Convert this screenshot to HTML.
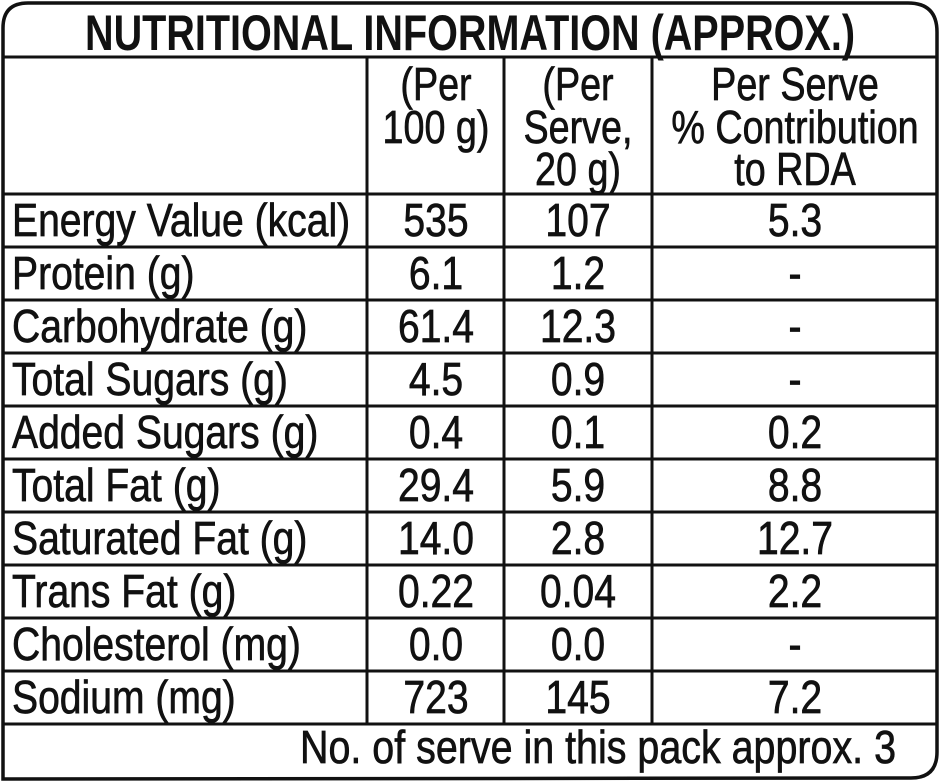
<!DOCTYPE html>
<html><head><meta charset="utf-8"><style>
html,body{margin:0;padding:0;background:#fff;}
svg{display:block;}
text{font-family:"Liberation Sans",Arial,sans-serif;fill:#111;}
.b text{stroke:#111;stroke-width:0.7;}
</style></head><body>
<svg width="940" height="781" viewBox="0 0 940 781" xmlns="http://www.w3.org/2000/svg">
<rect width="940" height="781" fill="#fff"/>
<path d="M3,779 L3,28 Q3,3 28,3 L908,3 Q937,3 937,32 L937,752 Q937,778 911,778 Z" fill="none" stroke="#111" stroke-width="3.5"/>
<g stroke="#111" stroke-width="3">
<line x1="3" y1="57" x2="937" y2="57"/>
<line x1="3" y1="194" x2="937" y2="194"/>
<line x1="3" y1="247" x2="937" y2="247"/>
<line x1="3" y1="300" x2="937" y2="300"/>
<line x1="3" y1="353" x2="937" y2="353"/>
<line x1="3" y1="406" x2="937" y2="406"/>
<line x1="3" y1="459" x2="937" y2="459"/>
<line x1="3" y1="512" x2="937" y2="512"/>
<line x1="3" y1="565" x2="937" y2="565"/>
<line x1="3" y1="618" x2="937" y2="618"/>
<line x1="3" y1="671" x2="937" y2="671"/>
<line x1="3" y1="724" x2="937" y2="724"/>
<line x1="367" y1="57" x2="367" y2="724"/>
<line x1="504" y1="57" x2="504" y2="724"/>
<line x1="652" y1="57" x2="652" y2="724"/>
</g>
<text x="470" y="50" text-anchor="middle" font-size="50" font-weight="bold" textLength="770" lengthAdjust="spacingAndGlyphs">NUTRITIONAL INFORMATION (APPROX.)</text>
<g class="b">
<g font-size="46" text-anchor="middle">
<text transform="translate(436,100) scale(0.82,1)">(Per</text>
<text transform="translate(436,143) scale(0.82,1)">100 g)</text>
<text transform="translate(578,100) scale(0.82,1)">(Per</text>
<text transform="translate(578,143) scale(0.82,1)">Serve,</text>
<text transform="translate(578,185) scale(0.82,1)">20 g)</text>
<text transform="translate(795,100) scale(0.82,1)">Per Serve</text>
<text transform="translate(795,143) scale(0.82,1)">% Contribution</text>
<text transform="translate(795,185) scale(0.82,1)">to RDA</text>
</g>
<g font-size="46">
<text transform="translate(12,236) scale(0.85,1)">Energy Value (kcal)</text>
<text transform="translate(12,289) scale(0.85,1)">Protein (g)</text>
<text transform="translate(12,342) scale(0.85,1)">Carbohydrate (g)</text>
<text transform="translate(12,395) scale(0.85,1)">Total Sugars (g)</text>
<text transform="translate(12,448) scale(0.85,1)">Added Sugars (g)</text>
<text transform="translate(12,501) scale(0.85,1)">Total Fat (g)</text>
<text transform="translate(12,554) scale(0.85,1)">Saturated Fat (g)</text>
<text transform="translate(12,607) scale(0.85,1)">Trans Fat (g)</text>
<text transform="translate(12,660) scale(0.85,1)">Cholesterol (mg)</text>
<text transform="translate(12,713) scale(0.85,1)">Sodium (mg)</text>
</g>
<g font-size="46" text-anchor="middle">
<text transform="translate(436,236) scale(0.85,1)">535</text>
<text transform="translate(436,289) scale(0.85,1)">6.1</text>
<text transform="translate(436,342) scale(0.85,1)">61.4</text>
<text transform="translate(436,395) scale(0.85,1)">4.5</text>
<text transform="translate(436,448) scale(0.85,1)">0.4</text>
<text transform="translate(436,501) scale(0.85,1)">29.4</text>
<text transform="translate(436,554) scale(0.85,1)">14.0</text>
<text transform="translate(436,607) scale(0.85,1)">0.22</text>
<text transform="translate(436,660) scale(0.85,1)">0.0</text>
<text transform="translate(436,713) scale(0.85,1)">723</text>
<text transform="translate(578,236) scale(0.85,1)">107</text>
<text transform="translate(578,289) scale(0.85,1)">1.2</text>
<text transform="translate(578,342) scale(0.85,1)">12.3</text>
<text transform="translate(578,395) scale(0.85,1)">0.9</text>
<text transform="translate(578,448) scale(0.85,1)">0.1</text>
<text transform="translate(578,501) scale(0.85,1)">5.9</text>
<text transform="translate(578,554) scale(0.85,1)">2.8</text>
<text transform="translate(578,607) scale(0.85,1)">0.04</text>
<text transform="translate(578,660) scale(0.85,1)">0.0</text>
<text transform="translate(578,713) scale(0.85,1)">145</text>
<text transform="translate(795,236) scale(0.85,1)">5.3</text>
<text transform="translate(795,289) scale(0.85,1)">-</text>
<text transform="translate(795,342) scale(0.85,1)">-</text>
<text transform="translate(795,395) scale(0.85,1)">-</text>
<text transform="translate(795,448) scale(0.85,1)">0.2</text>
<text transform="translate(795,501) scale(0.85,1)">8.8</text>
<text transform="translate(795,554) scale(0.85,1)">12.7</text>
<text transform="translate(795,607) scale(0.85,1)">2.2</text>
<text transform="translate(795,660) scale(0.85,1)">-</text>
<text transform="translate(795,713) scale(0.85,1)">7.2</text>
</g>
<text x="300" y="763" font-size="46" textLength="596" lengthAdjust="spacingAndGlyphs">No. of serve in this pack approx. 3</text>
</g>
</svg>
</body></html>
